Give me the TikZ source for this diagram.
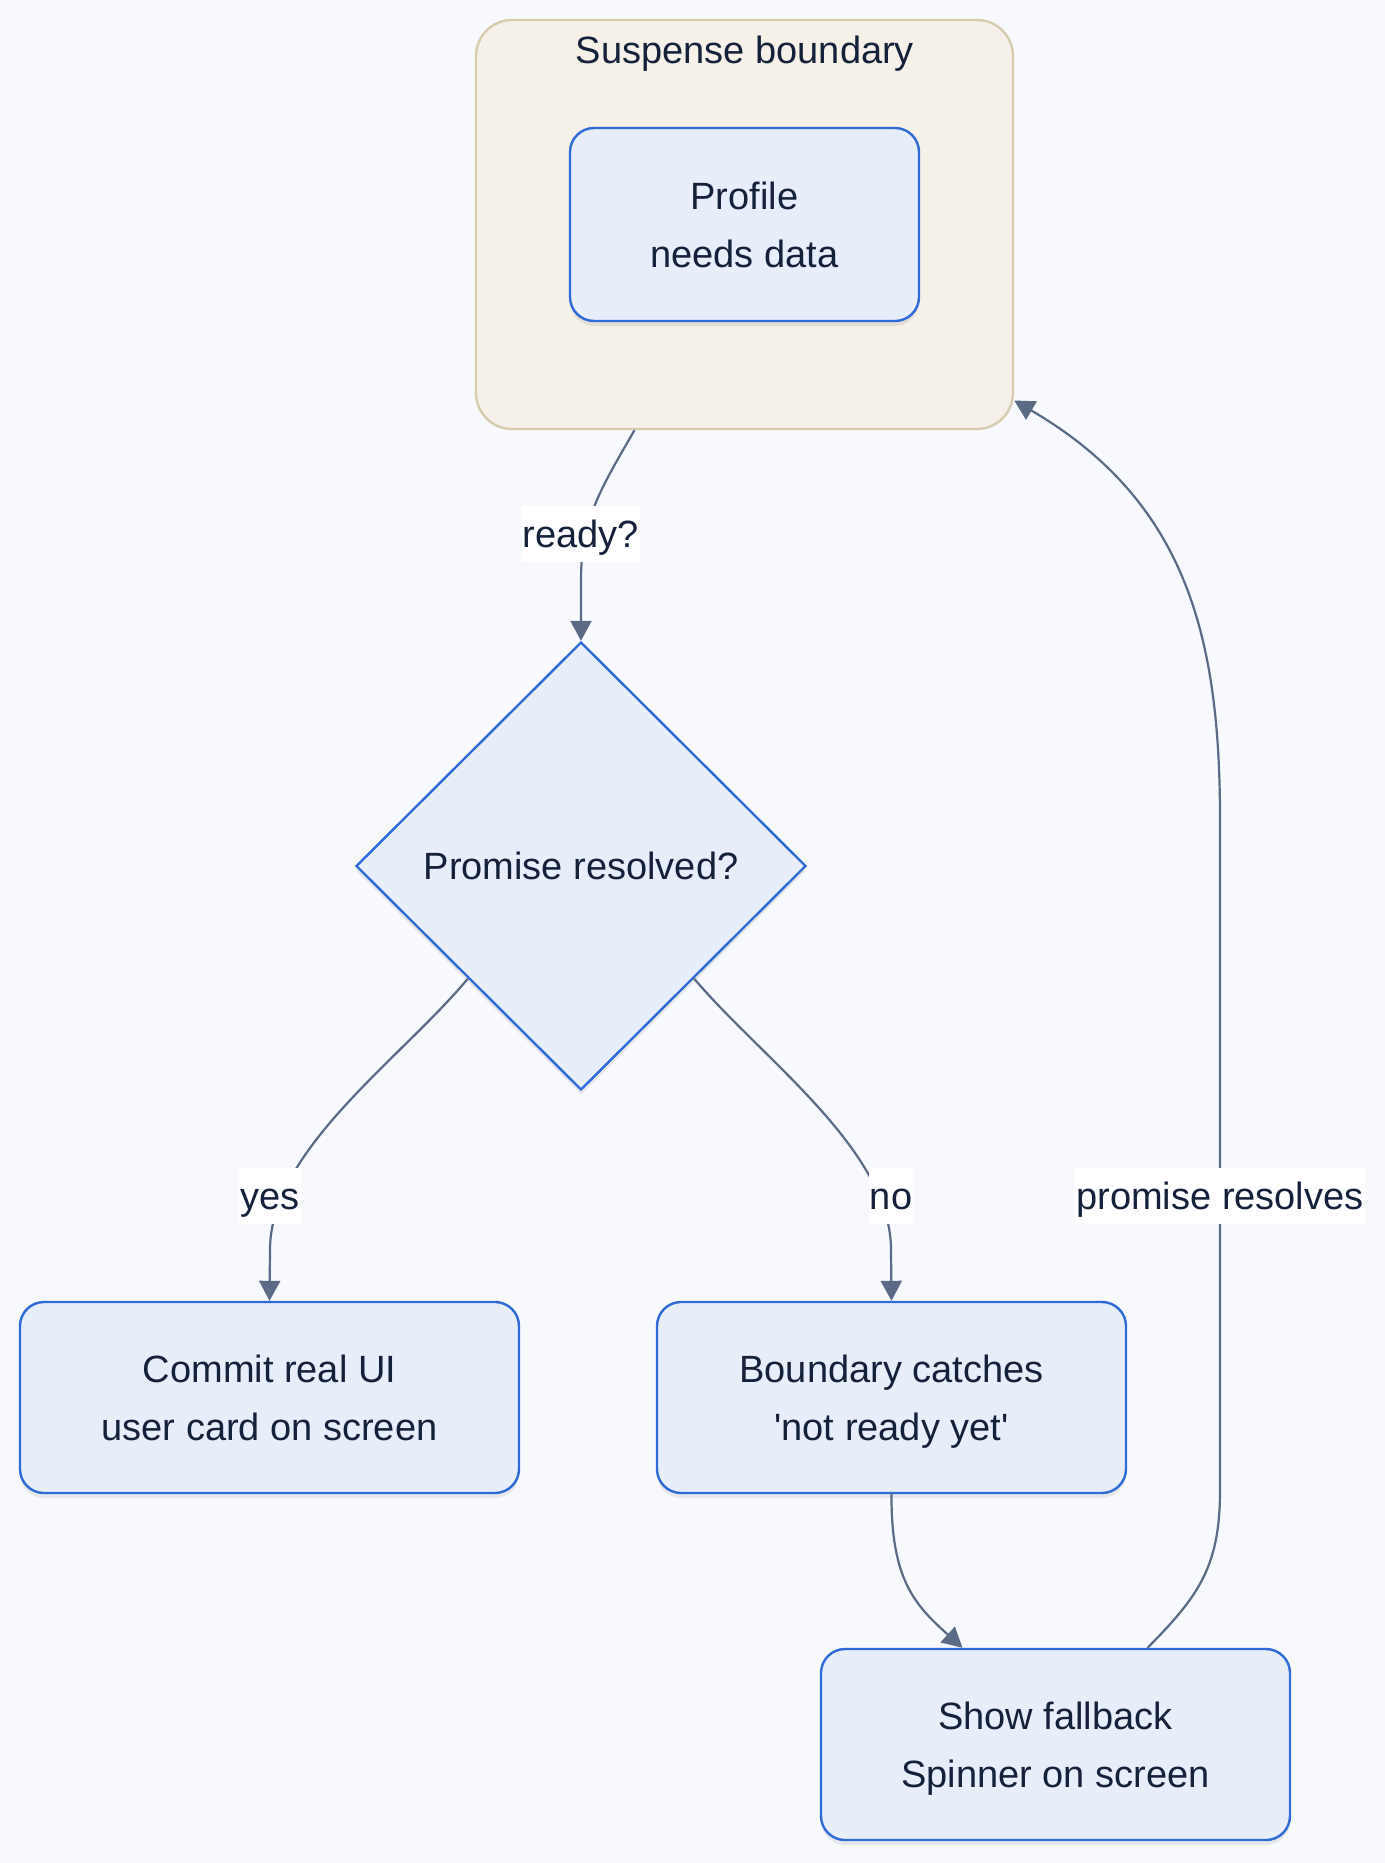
\documentclass[tikz,border=0pt]{standalone}
\usepackage{fontspec}
\setmainfont{Liberation Sans}
\usetikzlibrary{arrows.meta,shapes.geometric,calc,shadows}
\definecolor{bgc}{HTML}{F7F9FC}
\definecolor{nfill}{HTML}{E8EEF9}
\definecolor{ndraw}{HTML}{2F6BD8}
\definecolor{sfill}{HTML}{F5F1E8}
\definecolor{sdraw}{HTML}{D8CCB0}
\definecolor{ecol}{HTML}{5B6B86}
\definecolor{tcol}{HTML}{15213A}
\tikzset{
  basefont/.style={font=\fontsize{19}{29}\selectfont, text=tcol},
  procbox/.style={basefont, draw=ndraw, fill=nfill, line width=1.2pt, rounded corners=12pt,
    align=center, inner sep=0pt, text depth=0pt,
    drop shadow={shadow xshift=0pt, shadow yshift=-2.5pt, opacity=0.07, fill=black}},
  decbox/.style={basefont, diamond, draw=ndraw, fill=nfill, line width=1.2pt, inner sep=1pt,
    minimum width=225pt, minimum height=224pt, align=center,
    drop shadow={shadow xshift=0pt, shadow yshift=-2.5pt, opacity=0.07, fill=black}},
  groupbox/.style={draw=sdraw, fill=sfill, line width=1.2pt, rounded corners=18pt, inner sep=0pt,
    minimum width=268.5pt, minimum height=204.5pt},
  edge/.style={draw=ecol, line width=1.1pt, -{Triangle[length=10pt,width=10.5pt]}},
  elabel/.style={basefont, fill=white, inner xsep=0.5pt, inner ysep=0pt,
    text height=20.5pt, text depth=7.5pt, anchor=base}
}
\begin{document}
\begin{tikzpicture}[x=0.5pt,y=-0.5pt]
\fill[bgc] (0,0) rectangle (1385,1863);
\useasboundingbox (0,0) rectangle (1385,1863);

% group
\node[groupbox] (susp) at (744.5,224.5) {};
\node[basefont, inner sep=0pt, anchor=base] (sustitle) at (745,63) {Suspense boundary};
\node[procbox, minimum width=174.5pt, minimum height=96.5pt] (prof) at (744.5,224.5) {Profile\\needs data};

% decision
\node[decbox] (dia) at (581,866) {Promise resolved?};

% boxes
\node[procbox, minimum width=249.5pt, minimum height=95.5pt] (commit) at (269.5,1397.5) {Commit real UI\\user card on screen};
\node[procbox, minimum width=234.5pt, minimum height=95.5pt] (catch) at (891.5,1397.5) {Boundary catches\\\textquotesingle not ready yet\textquotesingle};
\node[procbox, minimum width=234.5pt, minimum height=95.5pt] (fall) at (1055.5,1744.5) {Show fallback\\Spinner on screen};

% edges
\draw[edge] ([xshift=-55pt]susp.south) .. controls (600,490) and (581,520) .. (581,580) -- (dia.north);
\draw[edge] (dia.south west) .. controls (400,1060) and (270,1150) .. (270,1250) -- (commit.north);
\draw[edge] (dia.south east) .. controls (763,1060) and (891,1150) .. (891,1250) -- (catch.north);
\draw[edge] (catch.south) .. controls (891,1580) and (915,1605) .. ([xshift=-46.5pt]fall.north);
\draw[edge] ([xshift=46pt]fall.north) .. controls (1200,1595) and (1220,1565) .. (1220,1490)
  -- (1220,820) .. controls (1220,640) and (1188,502) .. ([yshift=-88pt]susp.east);

% labels
\node[elabel] (lready) at (581,547) {ready?};
\node[elabel] (lyes) at (270,1209) {yes};
\node[elabel] (lno) at (891,1209) {no};
\node[elabel] (lprom) at (1220,1209) {promise resolves};
\end{tikzpicture}
\end{document}
